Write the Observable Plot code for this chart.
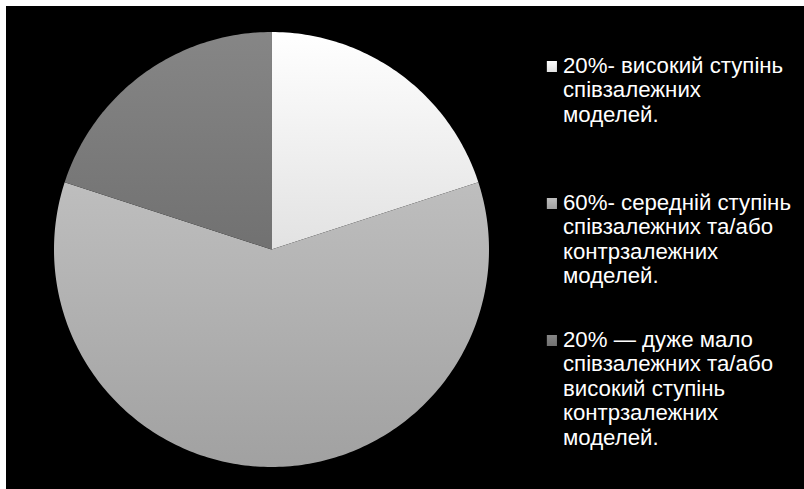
<!DOCTYPE html>
<html>
<head>
<meta charset="utf-8">
<script src="https://cdn.jsdelivr.net/npm/d3@7"></script>
<script src="https://cdn.jsdelivr.net/npm/@observablehq/plot@0.6"></script>
<style>
  html, body { margin: 0; padding: 0; background: #ffffff; }
  #wrap { position: relative; width: 804px; height: 489px; overflow: hidden; }
  #bg { position: absolute; left: 6px; top: 6px; right: 0; bottom: 0; background: #000; }
  #chart { position: absolute; left: 0; top: 0; }
  .entry { position: absolute; left: 563px; font-family: "Liberation Sans", Arial, sans-serif;
           font-size: 22px; line-height: 24.5px; color: #fff; white-space: nowrap;
           transform: scaleX(1.01); transform-origin: 0 0; }
  .swatch { position: absolute; left: -16.5px; top: 7px; width: 10px; height: 11px; }
</style>
</head>
<body>
<div id="wrap">
  <div id="bg"></div>
  <div id="chart"></div>
  <div id="legend"></div>
</div>
<script>
// ---- data ----
const categories = ["high", "medium", "low"];
const values = [20, 60, 20];
const legendLines = [
  ["20%- високий ступінь", "співзалежних", "моделей."],
  ["60%- середній ступінь", "співзалежних та/або", "контрзалежних", "моделей."],
  ["20% — дуже мало", "співзалежних та/або", "високий ступінь", "контрзалежних", "моделей."]
];

// ---- styles ----
const gradStops = [
  ["#ffffff", "#e2e2e2"],
  ["#bebebe", "#a1a1a1"],
  ["#868686", "#717171"]
];

// ---- pie geometry from data ----
const arcs = d3.pie().sort(null).value(d => d)(values);
const pts = [];
arcs.forEach((a, i) => {
  const key = categories[i];
  pts.push({key, x: 0, y: 0});
  const n = Math.max(2, Math.ceil((a.endAngle - a.startAngle) / (Math.PI / 180)));
  for (let k = 0; k <= n; k++) {
    const t = a.startAngle + (a.endAngle - a.startAngle) * k / n;
    pts.push({key, x: Math.sin(t), y: Math.cos(t)});
  }
  pts.push({key, x: 0, y: 0});
});

const plot = Plot.plot({
  width: 804,
  height: 489,
  marginLeft: 53.5,
  marginRight: 315.5,
  marginTop: 31.5,
  marginBottom: 22.5,
  style: {background: "transparent"},
  x: {domain: [-1, 1], axis: null},
  y: {domain: [-1, 1], axis: null},
  marks: categories.map((c, i) =>
    Plot.line(pts.filter(p => p.key === c), {
      x: "x", y: "y",
      fill: `url(#slice${i})`,
      stroke: "none"
    })
  )
});

const ns = "http://www.w3.org/2000/svg";
const defs = document.createElementNS(ns, "defs");
gradStops.forEach((s, i) => {
  const g = document.createElementNS(ns, "linearGradient");
  g.setAttribute("id", `slice${i}`);
  g.setAttribute("x1", "0"); g.setAttribute("y1", "0");
  g.setAttribute("x2", "0"); g.setAttribute("y2", "1");
  s.forEach((col, j) => {
    const st = document.createElementNS(ns, "stop");
    st.setAttribute("offset", j === 0 ? "0" : "1");
    st.setAttribute("stop-color", col);
    g.appendChild(st);
  });
  defs.appendChild(g);
});
plot.insertBefore(defs, plot.firstChild);
document.getElementById("chart").appendChild(plot);

// ---- legend ----
const legend = document.getElementById("legend");
legendLines.forEach((lines, i) => {
  const e = document.createElement("div");
  e.className = "entry";
  e.style.top = (53.5 + i * 137) + "px";
  const sw = document.createElement("div");
  sw.className = "swatch";
  sw.style.background = `linear-gradient(${gradStops[i][0]}, ${gradStops[i][1]})`;
  e.appendChild(sw);
  e.innerHTML += lines.join("<br>");
  legend.appendChild(e);
});
</script>
</body>
</html>
